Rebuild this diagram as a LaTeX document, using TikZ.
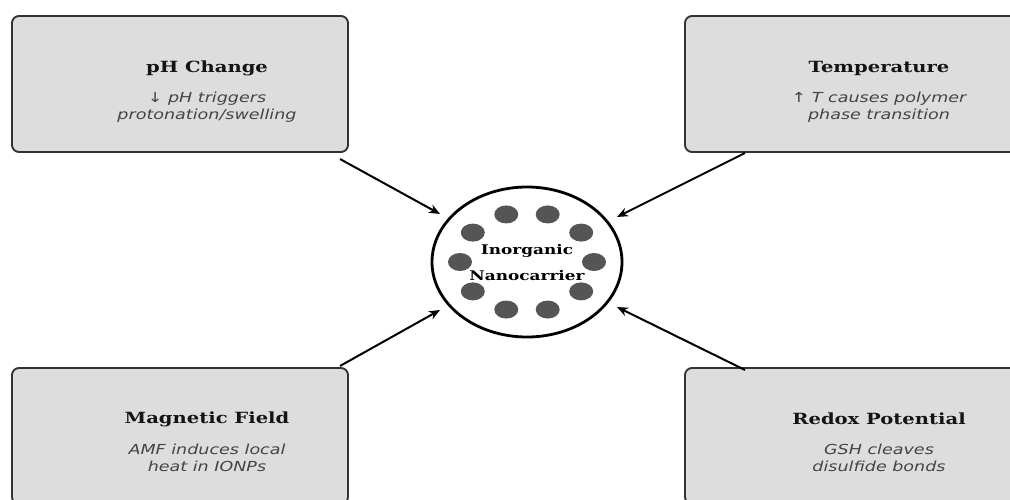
\documentclass[tikz,border=0pt]{standalone}
\usepackage{fontspec}
\setmainfont{DejaVu Serif}[FakeStretch=1.27]
\newfontfamily\subfont{DejaVu Sans}[FakeStretch=1.27]
\usetikzlibrary{arrows.meta,shapes.geometric}
\definecolor{boxfill}{HTML}{DDDDDD}
\definecolor{boxline}{HTML}{333333}
\definecolor{subgray}{HTML}{444444}
\definecolor{dotgray}{HTML}{555555}
\tikzset{
  x=1pt,y=-1pt,
  stimbox/.style={draw=boxline,line width=1.9pt,fill=boxfill,rounded corners=7pt,
    minimum width=336pt,minimum height=136pt,inner sep=0pt},
  stimtitle/.style={font=\bfseries\fontsize{15.4}{18}\selectfont,text=black!92,inner sep=0pt},
  stimsub/.style={font=\subfont\itshape\fontsize{13.8}{17}\selectfont,text=subgray,align=center,inner sep=0pt},
  carrier/.style={draw=black,line width=2.8pt,fill=white,ellipse,minimum width=190pt,minimum height=150pt},
  carriertext/.style={font=\bfseries\fontsize{13.3}{16}\selectfont,align=center,inner sep=0pt},
  dot/.style={fill=dotgray},
  trigger/.style={-{Stealth[length=11pt,width=9pt]},line width=2pt,black}
}
\begin{document}
\begin{tikzpicture}
\useasboundingbox (0,0) rectangle (1010,500);
\clip (0,0) rectangle (1010,500);
% boxes
\node[stimbox] (ph) at (180,84) {};
\node[stimbox] (temp) at (853,84) {};
\node[stimbox] (mag) at (180,436) {};
\node[stimbox] (redox) at (853,436) {};
% texts
\node[stimtitle] (pht) at (207,68.5) {pH Change};
\node[stimsub] (phs) at (207,107) {↓ pH triggers\\protonation/swelling};
\node[stimtitle] (tempt) at (879,68.5) {Temperature};
\node[stimsub] (temps) at (879,107) {↑ \textit{T} causes polymer\\phase transition};
\node[stimtitle] (magt) at (207,419) {Magnetic Field};
\node[stimsub] (mags) at (207,458) {AMF induces local\\heat in IONPs};
\node[stimtitle] (redoxt) at (879,419) {Redox Potential};
\node[stimsub] (redoxs) at (879,458) {GSH cleaves\\disulfide bonds};
% carrier
\node[carrier] (nc) at (527,262) {};
\foreach \a in {0,36,...,324} {
  \fill[dot] ({527+67*cos(\a)},{262-50*sin(\a)}) ellipse [x radius=12, y radius=9];
}
\node[carriertext] (nct) at (527,262.5) {Inorganic\\[10pt]Nanocarrier};
% arrows
\coordinate (s1) at (340,159); \coordinate (e1) at (440,214);
\coordinate (s2) at (745,153); \coordinate (e2) at (617,217);
\coordinate (s3) at (340,366); \coordinate (e3) at (440,310);
\coordinate (s4) at (745,370); \coordinate (e4) at (617,307);
\draw[trigger] (s1) -- (e1);
\draw[trigger] (s2) -- (e2);
\draw[trigger] (s3) -- (e3);
\draw[trigger] (s4) -- (e4);
\end{tikzpicture}
\end{document}
